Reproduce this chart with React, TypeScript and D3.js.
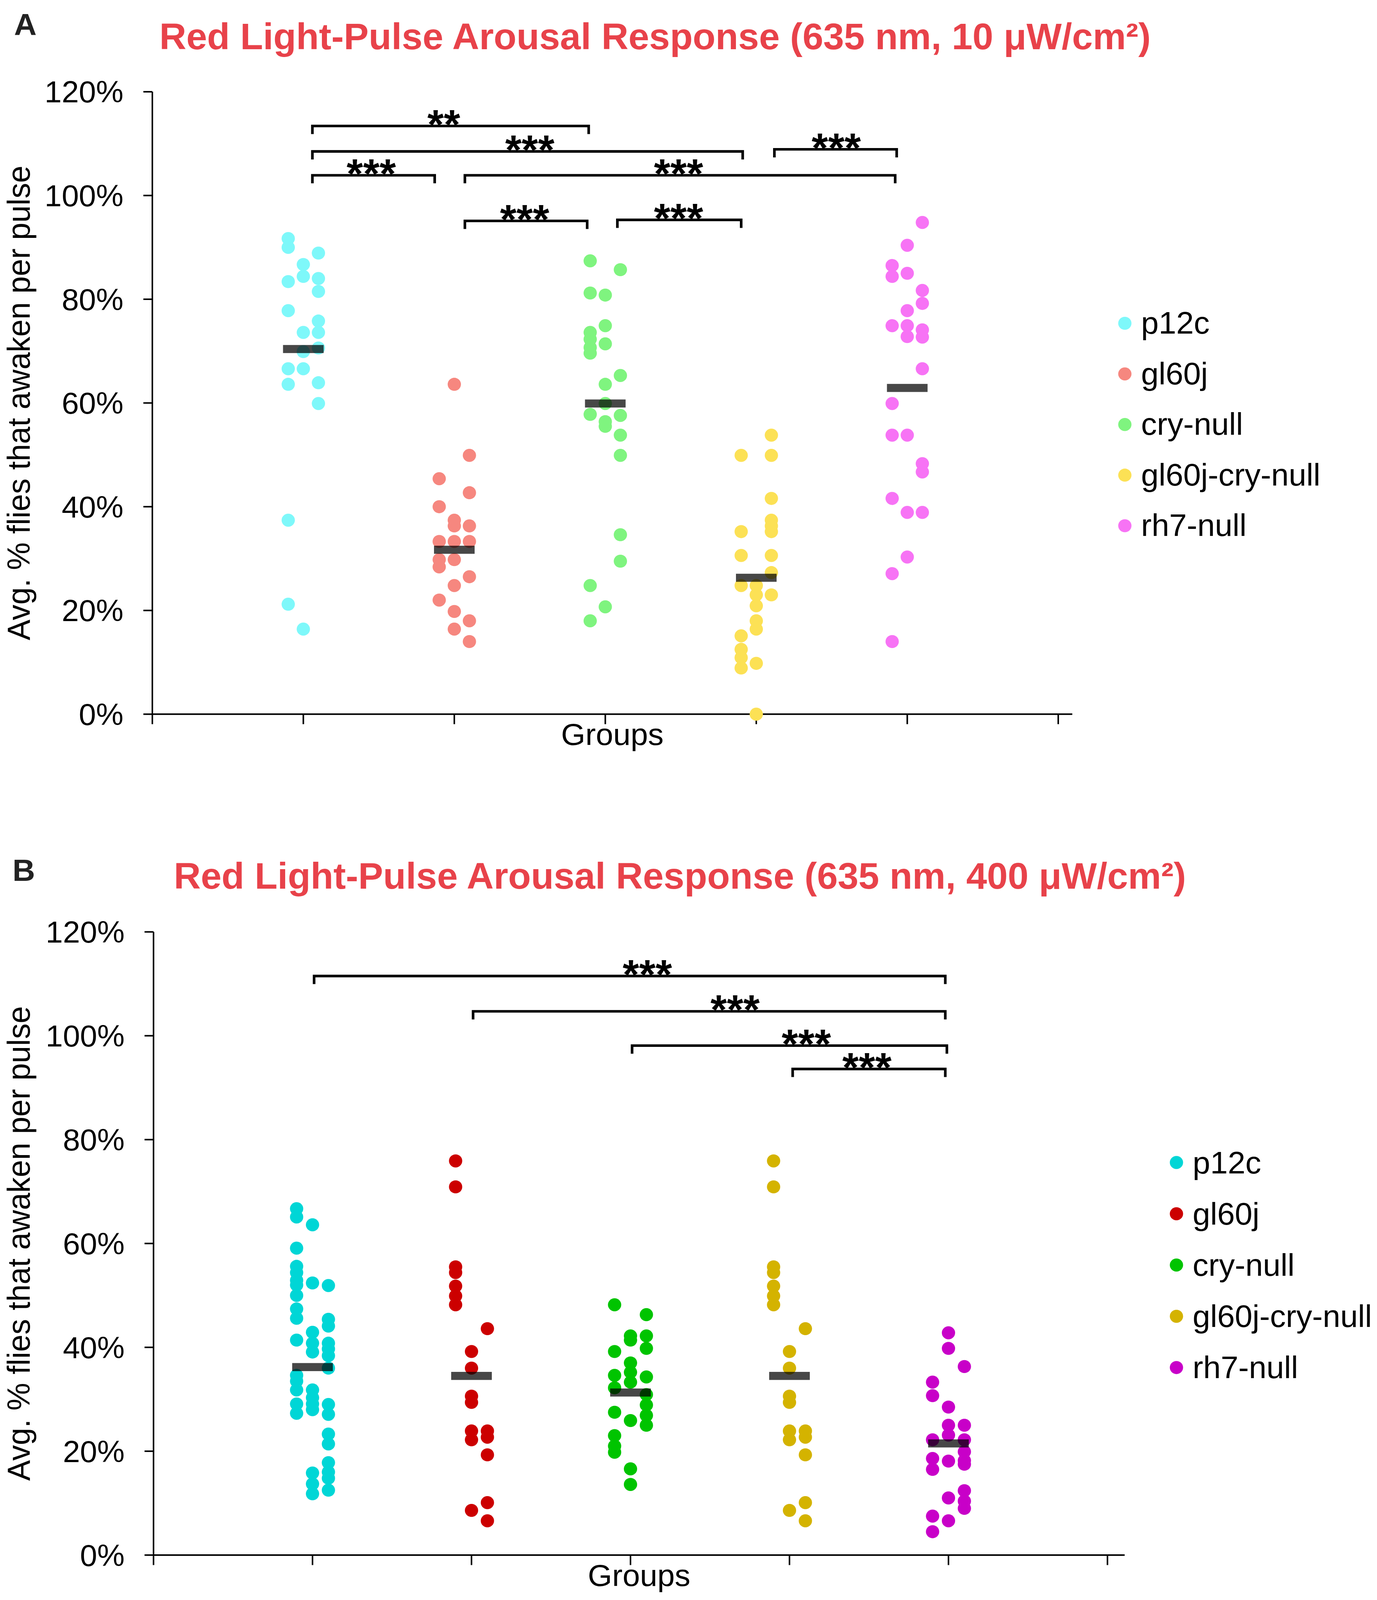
import React from 'react';
import * as d3 from 'd3';

// ---------- shared categories / ticks ----------
const groups = ['p12c', 'gl60j', 'cry-null', 'gl60j-cry-null', 'rh7-null'];
const yTicks = [0, 20, 40, 60, 80, 100, 120];
const xTicks = [0, 1, 2, 3, 4, 5, 6];

const colorsA = ['#7EF8FA', '#F6877F', '#7FF47F', '#FCE155', '#F773F5'];
const colorsB = ['#00D6D6', '#CC0000', '#00C400', '#D4B300', '#C800C8'];

// ---------- Panel A (10 µW/cm²) values & jitter lanes ----------
const aP12c = [91.7, 90.0, 88.9, 86.7, 84.4, 84.0, 83.4, 81.5, 77.8, 75.8, 73.6, 73.6, 70.6, 69.9, 66.6, 66.6, 63.6, 63.9, 59.9, 37.4, 21.2, 16.4];
const aP12cLane = [-1, -1, 1, 0, 0, 1, -1, 1, -1, 1, 0, 1, 1, 0, -1, 0, -1, 1, 1, -1, -1, 0];
const aGl60j = [63.6, 49.9, 45.4, 42.7, 40.0, 37.4, 36.3, 36.3, 33.3, 33.3, 33.3, 29.8, 29.8, 28.4, 26.5, 24.8, 22.0, 19.8, 18.0, 16.4, 14.0];
const aGl60jLane = [0, 1, -1, 1, -1, 0, 0, 1, -1, 0, 1, -1, 0, -1, 1, 0, -1, 0, 1, 0, 1];
const aCry = [87.4, 85.7, 81.2, 80.8, 74.9, 73.6, 72.3, 71.4, 70.7, 69.6, 65.3, 63.6, 59.9, 57.8, 57.6, 56.4, 55.5, 53.8, 49.9, 34.6, 29.5, 24.8, 20.7, 18.0];
const aCryLane = [-1, 1, -1, 0, 0, -1, -1, 0, -1, -1, 1, 0, 0, -1, 1, 0, 0, 1, 1, 1, 1, -1, 0, -1];
const aGlCry = [53.8, 49.9, 49.9, 41.6, 37.4, 36.3, 35.2, 35.2, 30.6, 30.6, 27.3, 24.8, 24.8, 23.0, 23.0, 20.9, 18.0, 16.4, 15.1, 12.5, 10.9, 9.8, 8.9, 0.0];
const aGlCryLane = [1, -1, 1, 1, 1, 1, 1, -1, -1, 1, 1, -1, 0, 0, 1, 0, 0, 0, -1, -1, -1, 0, -1, 0];
const aRh7 = [94.8, 90.4, 86.5, 84.4, 85.0, 81.7, 79.2, 77.8, 74.9, 74.9, 72.8, 74.1, 72.7, 66.6, 59.9, 53.8, 53.8, 48.3, 46.7, 41.6, 38.9, 38.9, 30.3, 27.1, 14.0];
const aRh7Lane = [1, 0, -1, -1, 0, 1, 1, 0, -1, 0, 0, 1, 1, 1, -1, -1, 0, 1, 1, -1, 0, 1, 0, -1, -1];
const aMedians = [70.4, 31.7, 59.9, 26.3, 62.9];

// ---------- Panel B (400 µW/cm²) values & jitter lanes ----------
const bP12c = [66.7, 65.1, 59.1, 55.6, 54.4, 52.9, 52.0, 50.0, 47.4, 45.6, 41.4, 34.6, 33.5, 31.8, 29.1, 27.3,
  63.6, 52.4, 42.9, 40.8, 39.1, 31.8, 30.3, 29.1, 28.0, 15.8, 13.7, 11.8,
  51.9, 45.4, 44.1, 40.8, 39.7, 38.4, 36.0, 29.0, 27.1, 23.3, 21.4, 17.8, 16.0, 14.8, 12.5];
const bP12cLane = [-1, -1, -1, -1, -1, -1, -1, -1, -1, -1, -1, -1, -1, -1, -1, -1,
  0, 0, 0, 0, 0, 0, 0, 0, 0, 0, 0, 0,
  1, 1, 1, 1, 1, 1, 1, 1, 1, 1, 1, 1, 1, 1, 1];
const bGl60j = [75.9, 70.9, 55.5, 54.4, 51.8, 49.9, 48.2, 39.2, 36.0, 30.6, 29.4, 23.9, 22.2, 8.6, 43.6, 23.9, 22.7, 19.3, 10.1, 6.6];
const bGl60jLane = [-1, -1, -1, -1, -1, -1, -1, 0, 0, 0, 0, 0, 0, 0, 1, 1, 1, 1, 1, 1];
const bCry = [48.2, 39.2, 34.6, 32.2, 27.5, 23.0, 21.0, 19.8, 42.2, 41.4, 37.0, 35.2, 33.3, 25.9, 16.6, 13.6, 46.3, 42.2, 39.8, 34.3, 30.9, 28.9, 26.9, 25.0];
const bCryLane = [-1, -1, -1, -1, -1, -1, -1, -1, 0, 0, 0, 0, 0, 0, 0, 0, 1, 1, 1, 1, 1, 1, 1, 1];
const bGlCry = [75.9, 70.9, 55.5, 54.4, 51.8, 49.9, 48.2, 39.2, 36.0, 30.6, 29.4, 23.9, 22.2, 8.6, 43.6, 23.9, 22.7, 19.3, 10.1, 6.6];
const bGlCryLane = [-1, -1, -1, -1, -1, -1, -1, 0, 0, 0, 0, 0, 0, 0, 1, 1, 1, 1, 1, 1];
const bRh7 = [33.3, 30.7, 22.2, 18.6, 16.5, 7.5, 4.5, 42.8, 39.8, 28.5, 25.0, 23.1, 18.1, 11.0, 6.6, 36.3, 25.0, 22.2, 19.9, 18.2, 17.5, 12.4, 10.4, 9.0];
const bRh7Lane = [-1, -1, -1, -1, -1, -1, -1, 0, 0, 0, 0, 0, 0, 0, 0, 1, 1, 1, 1, 1, 1, 1, 1, 1];
const bMedians = [36.2, 34.5, 31.3, 34.5, 21.5];

// ---------- significance brackets (group units, % level) ----------
const aBrackets = [
  { from: 1.06, to: 2.89, level: 113.4, label: '**', at: 1.93 },
  { from: 1.06, to: 3.91, level: 108.5, label: '***', at: 2.5 },
  { from: 1.06, to: 1.87, level: 103.9, label: '***', at: 1.45 },
  { from: 2.07, to: 4.92, level: 103.9, label: '***', at: 3.485 },
  { from: 4.12, to: 4.93, level: 108.9, label: '***', at: 4.53 },
  { from: 2.07, to: 2.88, level: 95.1, label: '***', at: 2.466 },
  { from: 3.08, to: 3.9, level: 95.3, label: '***', at: 3.485 },
];
const bBrackets = [
  { from: 1.01, to: 4.98, level: 111.5, label: '***', at: 3.106 },
  { from: 2.01, to: 4.98, level: 104.7, label: '***', at: 3.658 },
  { from: 3.01, to: 4.99, level: 98.1, label: '***', at: 4.106 },
  { from: 4.02, to: 4.98, level: 93.6, label: '***', at: 4.487 },
];

const titleA = 'Red Light-Pulse Arousal Response (635 nm, 10 μW/cm²)';
const titleB = 'Red Light-Pulse Arousal Response (635 nm, 400 μW/cm²)';
const yLabel = 'Avg. % flies that awaken per pulse';
const xLabel = 'Groups';

const FONT = "'Liberation Sans', Arial, Helvetica, sans-serif";

type Layout = {
  x0: number; step: number; yBottom: number; yTop: number; axisEnd: number;
  titleX: number; titleY: number; letter: string; letterX: number; letterY: number;
  legX: number; legY: number; legStep: number; legTextX: number; legTextDy: number;
};

function Panel({ lay, title, series, lanes, medians, colors, brackets }: {
  lay: Layout; title: string; series: number[][]; lanes: number[][]; medians: number[];
  colors: string[]; brackets: typeof aBrackets;
}) {
  const x = d3.scaleLinear().domain([0, 6]).range([lay.x0, lay.x0 + 6 * lay.step]);
  const y = d3.scaleLinear().domain([0, 120]).range([lay.yBottom, lay.yTop]);
  const laneW = x(0.1) - x(0);
  const r = 17;
  const midY = (lay.yBottom + lay.yTop) / 2;
  return (
    <g>
      <text x={lay.letterX} y={lay.letterY} fontFamily={FONT} fontWeight="bold" fontSize={80} fill="#222">{lay.letter}</text>
      <text x={lay.titleX} y={lay.titleY} fontFamily={FONT} fontWeight="bold" fontSize={95.5} fill="#E8424A">{title}</text>
      {/* y axis */}
      <line x1={lay.x0} x2={lay.x0} y1={y(120)} y2={y(0)} stroke="#000" strokeWidth={4} />
      {yTicks.map(t => (
        <g key={t}>
          <line x1={lay.x0 - 23} x2={lay.x0} y1={y(t)} y2={y(t)} stroke="#000" strokeWidth={4} />
          <text x={lay.x0 - 74} y={y(t) + 28} textAnchor="end" fontFamily={FONT} fontSize={79} fill="#000">{d3.format('d')(t)}%</text>
        </g>
      ))}
      <text transform={`translate(76,${midY}) rotate(-90)`} textAnchor="middle" fontFamily={FONT} fontSize={81} fill="#000">{yLabel}</text>
      {/* x axis */}
      <line x1={lay.x0} x2={lay.axisEnd} y1={y(0)} y2={y(0)} stroke="#000" strokeWidth={4} />
      {xTicks.map(t => (
        <line key={t} x1={x(t)} x2={x(t)} y1={y(0)} y2={y(0) + 26} stroke="#000" strokeWidth={4} />
      ))}
      <text x={(lay.x0 + lay.axisEnd) / 2} y={y(0) + 80} textAnchor="middle" fontFamily={FONT} fontSize={80} fill="#000">{xLabel}</text>
      {/* brackets */}
      {brackets.map((b, i) => {
        const yy = y(b.level);
        return (
          <g key={i}>
            <path d={`M${x(b.from)},${yy + 21}V${yy}H${x(b.to)}V${yy + 21}`} fill="none" stroke="#000" strokeWidth={6.7} />
            <text x={x(b.at)} y={yy + 33} textAnchor="middle" fontFamily={FONT} fontWeight="bold" fontSize={108} fill="#000">{b.label}</text>
          </g>
        );
      })}
      {/* points */}
      {series.map((vals, gi) => (
        <g key={gi}>
          {vals.map((v, i) => (
            <circle key={i} cx={x(gi + 1) + lanes[gi][i] * laneW} cy={y(v)} r={r} fill={colors[gi]} />
          ))}
        </g>
      ))}
      {/* medians */}
      {medians.map((m, gi) => (
        <rect key={gi} x={x(gi + 1) - 52} y={y(m) - 10.5} width={104} height={21} fill="#000" fillOpacity={0.72} />
      ))}
      {/* legend */}
      {groups.map((g, i) => (
        <g key={g}>
          <circle cx={lay.legX} cy={lay.legY + i * lay.legStep} r={r} fill={colors[i]} />
          <text x={lay.legTextX} y={lay.legY + i * lay.legStep + lay.legTextDy} fontFamily={FONT} fontSize={81} fill="#000">{g}</text>
        </g>
      ))}
    </g>
  );
}

const layA: Layout = {
  x0: 390, step: 386.5, yBottom: 1860, yTop: 239, axisEnd: 2745,
  titleX: 408, titleY: 128, letter: 'A', letterX: 36, letterY: 92,
  legX: 2879.5, legY: 842, legStep: 131.8, legTextX: 2921, legTextDy: 27,
};
const layB: Layout = {
  x0: 393, step: 407, yBottom: 4050, yTop: 2427, axisEnd: 2879,
  titleX: 445, titleY: 2314, letter: 'B', letterX: 32, letterY: 2294,
  legX: 3011.6, legY: 3027.6, legStep: 133.5, legTextX: 3053, legTextDy: 28,
};

export default function App() {
  return (
    <div style={{ position: 'absolute', left: 0, top: 0, width: '100vw', height: '100vh', overflow: 'hidden', background: '#fff' }}>
      <svg width="100%" height="100%" viewBox="0 0 3525 4167" preserveAspectRatio="none" style={{ display: 'block' }}>
        <rect width={3525} height={4167} fill="#fff" />
        <Panel lay={layA} title={titleA}
          series={[aP12c, aGl60j, aCry, aGlCry, aRh7]}
          lanes={[aP12cLane, aGl60jLane, aCryLane, aGlCryLane, aRh7Lane]}
          medians={aMedians} colors={colorsA} brackets={aBrackets} />
        <Panel lay={layB} title={titleB}
          series={[bP12c, bGl60j, bCry, bGlCry, bRh7]}
          lanes={[bP12cLane, bGl60jLane, bCryLane, bGlCryLane, bRh7Lane]}
          medians={bMedians} colors={colorsB} brackets={bBrackets} />
      </svg>
    </div>
  );
}
